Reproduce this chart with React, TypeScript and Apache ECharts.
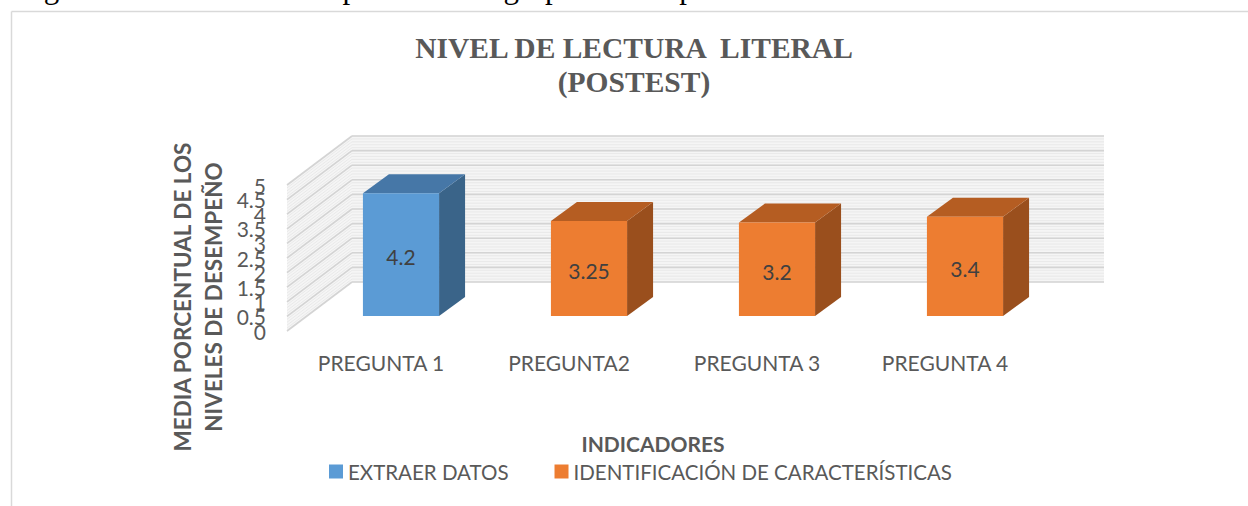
import React, { useEffect, useRef } from "react";
import * as echarts from "echarts";

const categories = ["PREGUNTA 1", "PREGUNTA2", "PREGUNTA 3", "PREGUNTA 4"];
const extraerDatos: (number | null)[] = [4.2, null, null, null];
const identificacion: (number | null)[] = [null, 3.25, 3.2, 3.4];
const seriesNames = ["EXTRAER DATOS", "IDENTIFICACIÓN DE CARACTERÍSTICAS"];
const yMin = 0;
const yMax = 5;
const yInterval = 0.5;
const yTickLabels = ["0", "0.5", "1", "1.5", "2", "2.5", "3", "3.5", "4", "4.5", "5"];

const titleLines = ["NIVEL DE LECTURA  LITERAL", "(POSTEST)"];
const yAxisTitle = ["MEDIA PORCENTUAL DE LOS", "NIVELES DE DESEMPEÑO"];
const xAxisTitle = "INDICADORES";
const caption =
  "Figura 13. Resultados del postest en el grupo control para la variable nivel de lectura literal";

// depth geometry (px)
const WALL_DX = 65;
const WALL_DY = 49;
const BAR_FRONT_DX = 20;
const BAR_FRONT_DY = 15;
const BAR_DEPTH_DX = 26;
const BAR_DEPTH_DY = 19;
const BAR_WIDTH_RATIO = 0.405;

const palettes = [
  { front: "#5b9bd5", top: "#4677a7", side: "#3a6489" },
  { front: "#ed7d31", top: "#b55d22", side: "#9a4f1d" },
];

const SANS = "Lato, Open Sans, sans-serif";
const SERIF = "Liberation Serif, Times New Roman, serif";

const toData = (arr: (number | null)[]) =>
  arr.map((v, i) => (v == null ? null : [i, v])).filter((d) => d !== null);

function makeBarRender(pal: { front: string; top: string; side: string }) {
  return (params: any, api: any) => {
    const ci = api.value(0);
    const v = api.value(1);
    const base = api.coord([ci, 0]);
    const top = api.coord([ci, v]);
    const band = api.size([1, 0])[0];
    const w = band * BAR_WIDTH_RATIO;
    const x0 = base[0] - w / 2 + BAR_FRONT_DX;
    const x1 = x0 + w;
    const yb = base[1] - BAR_FRONT_DY;
    const yt = top[1] - BAR_FRONT_DY;
    return {
      type: "group",
      children: [
        {
          type: "polygon",
          shape: {
            points: [
              [x1, yt],
              [x1 + BAR_DEPTH_DX, yt - BAR_DEPTH_DY],
              [x1 + BAR_DEPTH_DX, yb - BAR_DEPTH_DY],
              [x1, yb],
            ],
          },
          style: { fill: pal.side },
        },
        {
          type: "polygon",
          shape: {
            points: [
              [x0, yt],
              [x1, yt],
              [x1 + BAR_DEPTH_DX, yt - BAR_DEPTH_DY],
              [x0 + BAR_DEPTH_DX, yt - BAR_DEPTH_DY],
            ],
          },
          style: { fill: pal.top },
        },
        {
          type: "rect",
          shape: { x: x0, y: yt, width: w, height: yb - yt },
          style: { fill: pal.front },
        },
        {
          type: "text",
          x: (x0 + x1) / 2,
          y: (yt + yb) / 2 + 2,
          style: {
            text: String(v),
            align: "center",
            verticalAlign: "middle",
            fontSize: 21,
            fontFamily: SANS,
            fill: "#404040",
          },
        },
      ],
    };
  };
}

function renderWalls(params: any, api: any) {
  const cs = params.coordSys;
  const left = cs.x;
  const right = cs.x + cs.width;
  const children: any[] = [];
  const y0 = api.coord([0, yMin])[1];
  const y5 = api.coord([0, yMax])[1];
  children.push({
    type: "polygon",
    shape: {
      points: [
        [left, y0],
        [left, y5],
        [left + WALL_DX, y5 - WALL_DY],
        [left + WALL_DX, y0 - WALL_DY],
      ],
    },
    style: { fill: "#f5f5f5" },
  });
  children.push({
    type: "rect",
    shape: {
      x: left + WALL_DX,
      y: y5 - WALL_DY,
      width: right - left,
      height: y0 - y5,
    },
    style: { fill: "#f5f5f5" },
  });
  const fine = yInterval / 5;
  for (let v = yMin; v <= yMax + 1e-9; v += fine) {
    const y = api.coord([0, v])[1];
    children.push({
      type: "line",
      shape: { x1: left + WALL_DX, y1: y - WALL_DY, x2: right + WALL_DX, y2: y - WALL_DY },
      style: { stroke: "#e6e6e6", lineWidth: 0.8 },
    });
    children.push({
      type: "line",
      shape: { x1: left, y1: y, x2: left + WALL_DX, y2: y - WALL_DY },
      style: { stroke: "#e6e6e6", lineWidth: 0.8 },
    });
  }
  for (let v = yMin; v <= yMax + 1e-9; v += yInterval) {
    const y = api.coord([0, v])[1];
    children.push({
      type: "line",
      shape: { x1: left + WALL_DX, y1: y - WALL_DY, x2: right + WALL_DX, y2: y - WALL_DY },
      style: { stroke: "#d4d4d4", lineWidth: 1.6 },
    });
    children.push({
      type: "line",
      shape: { x1: left, y1: y, x2: left + WALL_DX, y2: y - WALL_DY },
      style: { stroke: "#d4d4d4", lineWidth: 1.6 },
    });
  }
  // tick labels (the reference draws every one, overlapping)
  yTickLabels.forEach((lab) => {
    const y = api.coord([0, Number(lab)])[1];
    children.push({
      type: "text",
      x: left - 21,
      y: y,
      style: {
        text: lab,
        align: "right",
        verticalAlign: "middle",
        fontSize: 21,
        fontFamily: SANS,
        fill: "#595959",
      },
    });
  });
  return { type: "group", children };
}

export default function App() {
  const ref = useRef<HTMLDivElement>(null);
  useEffect(() => {
    document.body.style.margin = "0";
    if (!ref.current) return;
    const chart = echarts.init(ref.current, undefined, { renderer: "svg" });
    chart.setOption({
      animation: false,
      backgroundColor: "#ffffff",
      grid: { left: 287, right: 209, top: 185, bottom: 175, containLabel: false },
      xAxis: {
        type: "category",
        data: categories,
        axisLine: { show: false },
        axisTick: { show: false },
        splitLine: { show: false },
        axisLabel: {
          margin: 21,
          fontSize: 21,
          color: "#595959",
          fontFamily: SANS,
        },
      },
      yAxis: {
        type: "value",
        min: yMin,
        max: yMax,
        interval: yInterval,
        axisLine: { show: false },
        axisTick: { show: false },
        splitLine: { show: false },
        axisLabel: { show: false },
      },
      legend: {
        left: 329,
        top: 461,
        padding: 0,
        itemWidth: 14,
        itemHeight: 14,
        itemGap: 46,
        icon: "rect",
        data: seriesNames,
        textStyle: { fontSize: 20.5, color: "#595959", fontFamily: SANS },
      },
      graphic: [
        {
          type: "line",
          shape: { x1: 11.5, y1: 11.5, x2: 1248, y2: 11.5 },
          style: { stroke: "#d9d9d9", lineWidth: 1.5 },
        },
        {
          type: "line",
          shape: { x1: 11.5, y1: 11.5, x2: 11.5, y2: 506 },
          style: { stroke: "#d9d9d9", lineWidth: 1.5 },
        },
        {
          type: "text",
          x: 18,
          y: -13,
          style: {
            text: caption,
            fontSize: 31,
            fontFamily: SERIF,
            fill: "#000000",
            verticalAlign: "middle",
          },
        },
        {
          type: "text",
          x: 634,
          y: 48,
          style: {
            text: titleLines[0],
            align: "center",
            verticalAlign: "middle",
            fontSize: 29.5,
            fontWeight: "bold",
            fontFamily: SERIF,
            fill: "#595959",
          },
        },
        {
          type: "text",
          x: 634,
          y: 82,
          style: {
            text: titleLines[1],
            align: "center",
            verticalAlign: "middle",
            fontSize: 29.5,
            fontWeight: "bold",
            fontFamily: SERIF,
            fill: "#595959",
          },
        },
        {
          type: "text",
          x: 182,
          y: 297,
          rotation: Math.PI / 2,
          style: {
            text: yAxisTitle[0],
            align: "center",
            verticalAlign: "middle",
            fontSize: 22.5,
            fontWeight: "bold",
            fontFamily: SANS,
            fill: "#595959",
          },
        },
        {
          type: "text",
          x: 213,
          y: 297,
          rotation: Math.PI / 2,
          style: {
            text: yAxisTitle[1],
            align: "center",
            verticalAlign: "middle",
            fontSize: 22.5,
            fontWeight: "bold",
            fontFamily: SANS,
            fill: "#595959",
          },
        },
        {
          type: "text",
          x: 653,
          y: 443,
          style: {
            text: xAxisTitle,
            align: "center",
            verticalAlign: "middle",
            fontSize: 21,
            fontWeight: "bold",
            fontFamily: SANS,
            fill: "#595959",
          },
        },
      ],
      series: [
        {
          type: "custom",
          name: "walls",
          data: [[0, 0]],
          renderItem: renderWalls,
          clip: false,
          silent: true,
          z: 1,
        },
        {
          type: "custom",
          name: seriesNames[0],
          data: toData(extraerDatos),
          encode: { x: 0, y: 1 },
          renderItem: makeBarRender(palettes[0]),
          itemStyle: { color: palettes[0].front },
          clip: false,
          z: 3,
        },
        {
          type: "custom",
          name: seriesNames[1],
          data: toData(identificacion),
          encode: { x: 0, y: 1 },
          renderItem: makeBarRender(palettes[1]),
          itemStyle: { color: palettes[1].front },
          clip: false,
          z: 3,
        },
      ],
    });
    return () => chart.dispose();
  }, []);
  return <div ref={ref} style={{ width: 1248, height: 506 }} />;
}
